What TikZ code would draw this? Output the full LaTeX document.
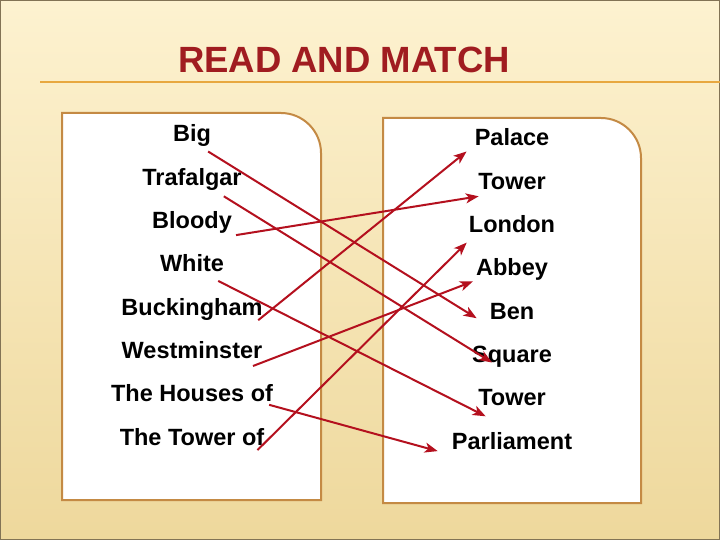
\documentclass[tikz,border=0pt]{standalone}
\usepackage{fontspec}
\setmainfont{Liberation Sans}
\usepackage{tikz}
\usetikzlibrary{positioning,chains,arrows.meta}
\definecolor{titlered}{RGB}{160,28,32}
\definecolor{arrowred}{RGB}{180,16,30}
\definecolor{boxedge}{RGB}{196,138,68}
\definecolor{ruleline}{RGB}{232,168,64}
\definecolor{bgtop}{RGB}{253,242,208}
\definecolor{bgbot}{RGB}{238,216,156}
\definecolor{frameline}{RGB}{130,115,85}
\tikzset{
	word/.style={
		font=\bfseries\fontsize{23.5}{28}\selectfont,
		text height=17pt,
		text depth=5pt,
		inner sep=0pt
	},
	panel/.style={
		draw=boxedge,
		line width=2pt,
		fill=white
	},
	match/.style={
		draw=arrowred,
		line width=2pt,
		-{Stealth[length=13pt,width=10pt,inset=3.5pt]}
	}
}

\begin{document}
\begin{tikzpicture}[x=1pt, y=-1pt, node distance=20.9pt, every on chain/.style={word}]
			\useasboundingbox (0,0) rectangle (720,540);
			\shade[top color=bgtop, bottom color=bgbot] (0,0) rectangle (720,540);
			\draw[frameline, line width=1pt] (0.5,0.5) rectangle (719.5,539.5);
			\draw[ruleline, line width=2pt] (40,82) -- (720,82);
			\node[font=\bfseries\fontsize{36.5}{42}\selectfont, text=titlered, anchor=base] (title) at (344,73) {READ AND MATCH};
			\path[panel] (62,500) -- (62,113) -- (281,113) .. controls (303,113) and (321,131) .. (321,153) -- (321,500) -- cycle;
			\path[panel] (383,503) -- (383,118) -- (601,118) .. controls (623,118) and (641,136) .. (641,158) -- (641,503) -- cycle;
			\begin{scope}[start chain=lhs going below]
				\node[on chain=lhs] (big) at (192,136) {Big};
				\node[on chain=lhs] (trafalgar) {Trafalgar};
				\node[on chain=lhs] (bloody) {Bloody};
				\node[on chain=lhs] (white) {White};
				\node[on chain=lhs] (buckingham) {Buckingham};
				\node[on chain=lhs] (westminster) {Westminster};
				\node[on chain=lhs] (houses) {The Houses of};
				\node[on chain=lhs] (towerof) {The Tower of};
			\end{scope}
			\begin{scope}[start chain=rhs going below]
				\node[on chain=rhs] (palace) at (512,140) {Palace};
				\node[on chain=rhs] (tower) {Tower};
				\node[on chain=rhs] (london) {London};
				\node[on chain=rhs] (abbey) {Abbey};
				\node[on chain=rhs] (ben) {Ben};
				\node[on chain=rhs] (square) {Square};
				\node[on chain=rhs] (towerb) {Tower};
				\node[on chain=rhs] (parliament) {Parliament};
			\end{scope}
			\draw[match] ([shift={(-3,9.5)}]big.base east) -- ([shift={(-13,-1)}]ben.base west);
			\draw[match] ([shift={(-18,11)}]trafalgar.base east) -- ([shift={(20,0)}]square.base west);
			\draw[match] ([shift={(4,6.5)}]bloody.base east) -- ([shift={(0.6,7)}]tower.base west);
			\draw[match] ([shift={(-6,9)}]white.base east) -- ([shift={(7.6,10.5)}]towerb.base west);
			\draw[match] ([shift={(-4.5,5)}]buckingham.base east) -- ([shift={(-8,5.5)}]palace.base west);
			\draw[match] ([shift={(-9.5,7.5)}]westminster.base east) -- ([shift={(-3,5.5)}]abbey.base west);
			\draw[match] ([shift={(-4,3)}]houses.base east) -- ([shift={(-14,2)}]parliament.base west);
			\draw[match] ([shift={(-7,5)}]towerof.base east) -- ([shift={(-2,10)}]london.base west);
		\end{tikzpicture}
\end{document}
